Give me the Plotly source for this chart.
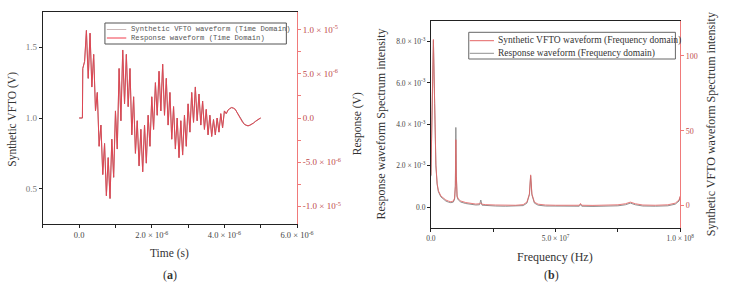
import plotly.graph_objects as go

W, H = 738, 285

# ---------------- data: (a) time domain ----------------
time_s = [0.0, 0.09e-6,
          0.10e-6, 0.15e-6, 0.20e-6, 0.25e-6, 0.30e-6, 0.35e-6, 0.40e-6, 0.45e-6, 0.50e-6, 0.55e-6,
          0.60e-6, 0.65e-6, 0.70e-6, 0.75e-6, 0.80e-6, 0.85e-6, 0.90e-6, 0.95e-6, 1.00e-6, 1.05e-6,
          1.10e-6, 1.15e-6, 1.20e-6, 1.25e-6, 1.30e-6, 1.35e-6, 1.40e-6, 1.45e-6, 1.50e-6, 1.55e-6,
          1.60e-6, 1.65e-6, 1.70e-6, 1.75e-6, 1.80e-6, 1.85e-6, 1.90e-6, 1.95e-6, 2.00e-6, 2.05e-6,
          2.10e-6, 2.15e-6, 2.20e-6, 2.25e-6, 2.30e-6, 2.35e-6, 2.40e-6, 2.45e-6, 2.50e-6, 2.55e-6,
          2.60e-6, 2.65e-6, 2.70e-6, 2.75e-6, 2.80e-6, 2.85e-6, 2.90e-6, 2.95e-6, 3.00e-6, 3.05e-6,
          3.10e-6, 3.15e-6, 3.20e-6, 3.25e-6, 3.30e-6, 3.35e-6, 3.40e-6, 3.45e-6, 3.50e-6, 3.55e-6,
          3.60e-6, 3.65e-6, 3.70e-6, 3.75e-6, 3.80e-6, 3.85e-6, 3.90e-6, 3.95e-6, 4.00e-6,
          4.05e-6, 4.10e-6, 4.15e-6, 4.20e-6, 4.25e-6, 4.30e-6, 4.35e-6, 4.40e-6, 4.45e-6, 4.50e-6,
          4.55e-6, 4.60e-6, 4.65e-6, 4.70e-6, 4.75e-6, 4.80e-6, 4.85e-6, 4.90e-6, 4.95e-6, 5.00e-6]

synthetic_vfto_V = [1.00, 1.00,
                    1.35, 1.40, 1.62, 1.28, 1.60, 1.22, 1.45, 1.05, 1.18, 0.80,
                    0.95, 0.60, 0.82, 0.45, 0.72, 0.43, 0.85, 0.58, 1.05, 0.78,
                    1.35, 0.98, 1.48, 1.10, 1.45, 1.08, 1.35, 0.88, 1.15, 0.75,
                    0.98, 0.66, 0.92, 0.62, 0.95, 0.68, 1.02, 0.80, 1.15, 0.92,
                    1.25, 1.02, 1.33, 1.05, 1.38, 1.02, 1.28, 0.95, 1.18, 0.85,
                    1.08, 0.78, 1.00, 0.72, 0.98, 0.74, 1.02, 0.80, 1.10, 0.90,
                    1.18, 0.97, 1.22, 0.98, 1.17, 0.95, 1.12, 0.92, 1.06, 0.88,
                    1.02, 0.87, 0.99, 0.88, 1.00, 0.90, 1.03, 0.93, 1.05,
                    1.03, 1.055, 1.068, 1.073, 1.07, 1.06, 1.04, 1.015, 0.99, 0.97,
                    0.955, 0.948, 0.945, 0.948, 0.955, 0.965, 0.975, 0.985, 0.993, 1.00]

response_V = [0.0, 0.0,
              5.6e-6, 6.4e-6, 9.9e-6, 4.5e-6, 9.6e-6, 3.5e-6, 7.2e-6, 0.8e-6, 2.9e-6, -3.2e-6,
              -0.8e-6, -6.4e-6, -2.9e-6, -8.8e-6, -4.5e-6, -9.1e-6, -2.4e-6, -6.7e-6, 0.8e-6, -3.5e-6,
              5.6e-6, -0.3e-6, 7.7e-6, 1.6e-6, 7.2e-6, 1.3e-6, 5.6e-6, -1.9e-6, 2.4e-6, -4.0e-6,
              -0.3e-6, -5.4e-6, -1.3e-6, -6.1e-6, -0.8e-6, -5.1e-6, 0.3e-6, -3.2e-6, 2.4e-6, -1.3e-6,
              4.0e-6, 0.3e-6, 5.3e-6, 0.8e-6, 6.1e-6, 0.3e-6, 4.5e-6, -0.8e-6, 2.9e-6, -2.4e-6,
              1.3e-6, -3.5e-6, 0.0, -4.5e-6, -0.3e-6, -4.2e-6, 0.3e-6, -3.2e-6, 1.6e-6, -1.6e-6,
              2.9e-6, -0.5e-6, 3.5e-6, -0.3e-6, 2.7e-6, -0.8e-6, 1.9e-6, -1.3e-6, 1.0e-6, -1.9e-6,
              0.3e-6, -2.1e-6, -0.2e-6, -1.9e-6, 0.0, -1.6e-6, 0.5e-6, -1.1e-6, 0.8e-6,
              0.5e-6, 0.9e-6, 1.1e-6, 1.2e-6, 1.1e-6, 1.0e-6, 0.6e-6, 0.2e-6, -0.2e-6, -0.5e-6,
              -0.7e-6, -0.8e-6, -0.9e-6, -0.8e-6, -0.7e-6, -0.6e-6, -0.4e-6, -0.2e-6, -0.1e-6, 0.0]

# ---------------- data: (b) frequency domain ----------------
freq_Hz = [0, 0.5e6, 1.0e6, 1.5e6, 2.0e6, 2.5e6, 3e6, 4e6, 5e6, 6e6,
           7e6, 8e6, 9e6, 9.5e6, 9.8e6, 1.0e7, 1.02e7, 1.05e7, 1.1e7, 1.2e7,
           1.4e7, 1.6e7, 1.8e7, 1.95e7, 2.0e7, 2.05e7, 2.2e7, 2.6e7, 3.0e7, 3.4e7,
           3.7e7, 3.85e7, 3.95e7, 4.0e7, 4.05e7, 4.15e7, 4.3e7, 4.6e7, 5.0e7, 5.5e7,
           5.95e7, 6.0e7, 6.05e7, 6.5e7, 7.0e7, 7.5e7, 7.8e7, 8.0e7, 8.2e7, 8.5e7,
           9.0e7, 9.5e7, 9.8e7, 9.95e7, 1.0e8]

response_spectrum = [1.5e-3, 5.0e-3, 8.05e-3, 5.0e-3, 2.0e-3, 1.1e-3, 0.75e-3, 0.5e-3, 0.38e-3, 0.3e-3,
                     0.25e-3, 0.22e-3, 0.25e-3, 0.4e-3, 1.0e-3, 3.85e-3, 1.5e-3, 0.5e-3, 0.35e-3, 0.25e-3,
                     0.18e-3, 0.14e-3, 0.11e-3, 0.12e-3, 0.35e-3, 0.1e-3, 0.08e-3, 0.06e-3, 0.05e-3, 0.05e-3,
                     0.08e-3, 0.2e-3, 0.6e-3, 1.52e-3, 0.6e-3, 0.2e-3, 0.1e-3, 0.06e-3, 0.05e-3, 0.05e-3,
                     0.05e-3, 0.14e-3, 0.05e-3, 0.04e-3, 0.05e-3, 0.07e-3, 0.12e-3, 0.2e-3, 0.12e-3, 0.06e-3,
                     0.05e-3, 0.07e-3, 0.15e-3, 0.3e-3, 0.5e-3]

synthetic_spectrum = [20.3, 68.8, 111, 68.8, 27.2, 14.7, 9.9, 6.4, 4.8, 3.7,
                      3.0, 2.5, 3.0, 5.0, 13.4, 44, 20.3, 6.4, 4.4, 3.0,
                      2.0, 1.4, 1.0, 1.2, 1.6, 0.9, 0.6, 0.35, 0.2, 0.2,
                      0.6, 2.3, 7.8, 20.5, 7.8, 2.3, 0.9, 0.35, 0.2, 0.2,
                      0.2, 1.4, 0.2, 0.1, 0.2, 0.5, 1.2, 2.3, 1.2, 0.35,
                      0.2, 0.5, 1.6, 3.7, 6.4]

# ---------------- tick labels ----------------
a_x_tickvals = [0, 2e-6, 4e-6, 6e-6]
a_x_ticktext = ["0.0", "2.0 × 10<sup>-6</sup>", "4.0 × 10<sup>-6</sup>", "6.0 × 10<sup>-6</sup>"]
a_x_minor = [-1e-6, 1e-6, 3e-6, 5e-6]
a_x_top = [-1e-6, 0, 1e-6, 2e-6, 3e-6, 4e-6, 5e-6, 6e-6]
a_y_tickvals = [0.5, 1.0, 1.5]
a_y_ticktext = ["0.5", "1.0", "1.5"]
a_y2_tickvals = [-1e-5, -5e-6, 0, 5e-6, 1e-5]
a_y2_ticktext = ["-1.0 × 10<sup>-5</sup>", "-5.0 × 10<sup>-6</sup>", "0.0",
                 "5.0 × 10<sup>-6</sup>", "1.0 × 10<sup>-5</sup>"]
a_y2_minor = [-7.5e-6, -2.5e-6, 2.5e-6, 7.5e-6]
b_x_tickvals = [0, 5e7, 1e8]
b_x_ticktext = ["0.0", "5.0 × 10<sup>7</sup>", "1.0 × 10<sup>8</sup>"]
b_x_minor = [2.5e7, 7.5e7]
b_x_top = [0, 2.5e7, 5e7, 7.5e7, 1e8]
b_y_tickvals = [0, 2e-3, 4e-3, 6e-3, 8e-3]
b_y_ticktext = ["0.0", "2.0 × 10<sup>-3</sup>", "4.0 × 10<sup>-3</sup>", "6.0 × 10<sup>-3</sup>", "8.0 × 10<sup>-3</sup>"]
b_y2_tickvals = [0, 50, 100]
b_y2_ticktext = ["0", "50", "100"]

legend_a = ["Synthetic VFTO waveform (Time Domain)", "Response waveform (Time Domain)"]
legend_b = ["Synthetic VFTO waveform (Frequency domain)", "Response waveform (Frequency domain)"]

# ---------------- styles ----------------
GREY_LINE = "#9a7070"
RED_LINE = "#f03c4c"
RED_AXIS = "#f07a7a"
RED_TEXT = "#c04a4a"
SPEC_RED = "#e46464"
SPEC_GREY = "#909090"
SERIF = "Liberation Serif"
MONO = "Liberation Mono"


def fx(px):
    return px / W


def fy(py):
    return 1 - py / H


fig = go.Figure()

# (a)
fig.add_trace(go.Scatter(x=time_s, y=synthetic_vfto_V, mode="lines", name=legend_a[0],
                         line=dict(color=GREY_LINE, width=1), xaxis="x", yaxis="y", showlegend=False))
fig.add_trace(go.Scatter(x=time_s, y=response_V, mode="lines", name=legend_a[1],
                         line=dict(color=RED_LINE, width=1), opacity=0.8, xaxis="x", yaxis="y2", showlegend=False))
# (b)
fig.add_trace(go.Scatter(x=freq_Hz, y=response_spectrum, mode="lines", name=legend_b[1],
                         line=dict(color=SPEC_GREY, width=1), xaxis="x2", yaxis="y3", showlegend=False))
fig.add_trace(go.Scatter(x=freq_Hz, y=synthetic_spectrum, mode="lines", name=legend_b[0],
                         line=dict(color=SPEC_RED, width=1), opacity=0.85, xaxis="x2", yaxis="y4", showlegend=False))

axis_common = dict(showgrid=False, zeroline=False, ticks="outside", ticklen=3, tickwidth=1, tickmode="array")

ax_a = [fx(39), fx(301)]
ay_a = [fy(224), fy(12)]
ax_b = [fx(439), fx(696)]
ay_b = [fy(228), fy(20.7)]

fig.update_layout(
    width=W, height=H, margin=dict(l=0, r=0, t=0, b=0),
    paper_bgcolor="white", plot_bgcolor="white",
    font=dict(family=SERIF, color="#333"),
    xaxis=dict(domain=ax_a, anchor="y", range=[-1e-6, 6e-6],
               tickvals=a_x_tickvals, ticktext=a_x_ticktext, showline=True, linecolor="#222",
               linewidth=1, mirror=True, tickcolor="#222", tickfont=dict(size=8.5, color="#444"),
               minor=dict(tickvals=a_x_minor, ticks="outside", ticklen=3, tickcolor="#222"), **axis_common),
    yaxis=dict(domain=ay_a, anchor="x", range=[0.25, 1.75],
               tickvals=a_y_tickvals, ticktext=a_y_ticktext, showline=True, linecolor="#222",
               linewidth=1, tickcolor="#222", tickfont=dict(size=9, color="#777"), **axis_common),
    yaxis2=dict(overlaying="y", side="right", anchor="x", range=[-1.2e-5, 1.2e-5],
                tickvals=a_y2_tickvals, ticktext=a_y2_ticktext, showline=True, linecolor=RED_AXIS,
                linewidth=1, tickcolor=RED_AXIS, tickfont=dict(size=9, color=RED_TEXT),
                minor=dict(tickvals=a_y2_minor, ticks="outside", ticklen=3, tickcolor=RED_AXIS), **axis_common),
    xaxis3=dict(overlaying="x", side="top", anchor="y", range=[-1e-6, 6e-6], tickmode="array",
                tickvals=a_x_top, showticklabels=False, showline=False, showgrid=False,
                zeroline=False, ticks="inside", ticklen=3, tickcolor="#222"),
    xaxis2=dict(domain=ax_b, anchor="y3", range=[0, 1e8],
                tickvals=b_x_tickvals, ticktext=b_x_ticktext, showline=True, linecolor="#222",
                linewidth=1, mirror=True, tickcolor="#222", tickfont=dict(size=7.5, color="#444"),
                minor=dict(tickvals=b_x_minor, ticks="outside", ticklen=3, tickcolor="#222"), **axis_common),
    yaxis3=dict(domain=ay_b, anchor="x2", range=[-1e-3, 9e-3],
                tickvals=b_y_tickvals, ticktext=b_y_ticktext, showline=True, linecolor="#222",
                linewidth=1, tickcolor="#222", tickfont=dict(size=7.5, color="#444"), **axis_common),
    yaxis4=dict(overlaying="y3", side="right", anchor="x2", range=[-15, 123.5],
                tickvals=b_y2_tickvals, ticktext=b_y2_ticktext, showline=True, linecolor=RED_AXIS,
                linewidth=1, tickcolor=RED_AXIS, tickfont=dict(size=8, color=RED_TEXT), **axis_common),
    xaxis4=dict(overlaying="x2", side="top", anchor="y3", range=[0, 1e8], tickmode="array",
                tickvals=b_x_top, showticklabels=False, showline=False, showgrid=False,
                zeroline=False, ticks="inside", ticklen=3, tickcolor="#222"),
)

ann = []


def txt(x, y, s, size, angle=0, color="#333", family=SERIF, xanchor="center"):
    ann.append(dict(x=fx(x), y=fy(y), xref="paper", yref="paper", text=s, showarrow=False,
                    textangle=angle, font=dict(size=size, color=color, family=family),
                    xanchor=xanchor, yanchor="middle"))


# axis titles & panel labels
txt(8, 119, "Synthetic VFTO (V)", 11.5, -90)
txt(363, 124, "Response (V)", 11.5, -90)
txt(170, 253, "Time (s)", 11.5)
txt(170, 275, "(<b>a</b>)", 12)
txt(388, 124, "Response waveform Spectrum intensity", 12, -90)
txt(728, 124, "Synthetic VFTO waveform Spectrum intensity", 12, -90)
txt(567, 257, "Frequency (Hz)", 12)
txt(563, 275, "(<b>b</b>)", 12)

# legend (a)
shapes = []
shapes.append(dict(type="rect", xref="paper", yref="paper", x0=fx(103), x1=fx(290), y0=fy(44), y1=fy(23),
                   line=dict(color="#555", width=1), fillcolor="rgba(255,255,255,0)"))
shapes.append(dict(type="line", xref="paper", yref="paper", x0=fx(105), x1=fx(125), y0=fy(29.5), y1=fy(29.5),
                   line=dict(color="#c8b8b8", width=1)))
shapes.append(dict(type="line", xref="paper", yref="paper", x0=fx(105), x1=fx(125), y0=fy(38), y1=fy(38),
                   line=dict(color=RED_LINE, width=1)))
txt(128, 29.5, legend_a[0], 7.2, color="#555", family=MONO, xanchor="left")
txt(128, 38, legend_a[1], 7.2, color="#555", family=MONO, xanchor="left")

# legend (b)
shapes.append(dict(type="rect", xref="paper", yref="paper", x0=fx(478), x1=fx(691), y0=fy(59), y1=fy(32.3),
                   line=dict(color="#666", width=1), fillcolor="rgba(255,255,255,0)"))
shapes.append(dict(type="line", xref="paper", yref="paper", x0=fx(479), x1=fx(504), y0=fy(40.7), y1=fy(40.7),
                   line=dict(color=SPEC_RED, width=1)))
shapes.append(dict(type="line", xref="paper", yref="paper", x0=fx(479), x1=fx(504), y0=fy(53.3), y1=fy(53.3),
                   line=dict(color=SPEC_GREY, width=1)))
txt(506, 40.7, legend_b[0], 9.5, color="#333", xanchor="left")
txt(506, 53.3, legend_b[1], 9.5, color="#333", xanchor="left")

fig.update_layout(annotations=ann, shapes=shapes)

fig.write_html("out.html", config={"displayModeBar": False},
               post_script="document.body.style.margin='0';document.body.style.overflow='hidden';")
